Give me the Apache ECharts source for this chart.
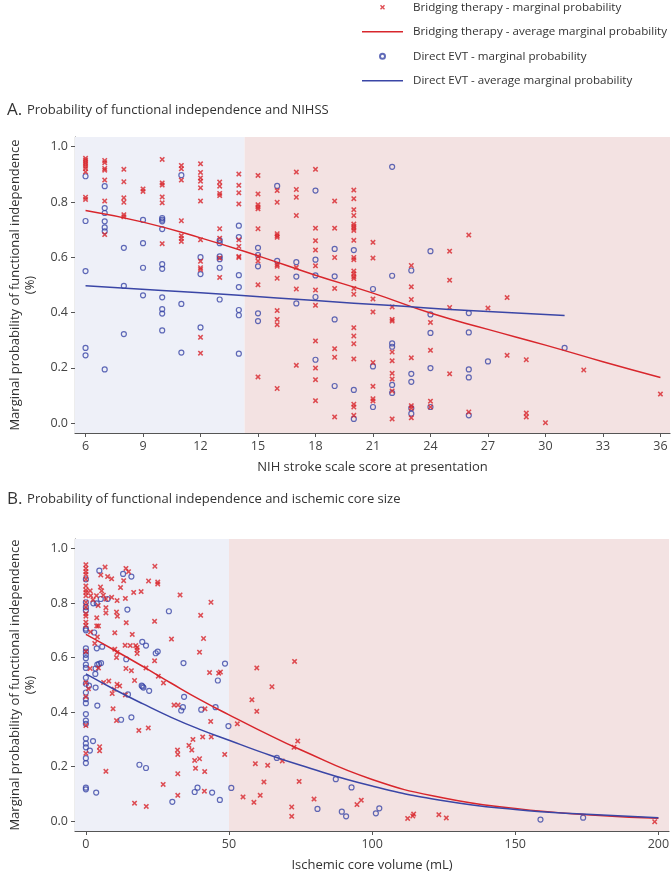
<!DOCTYPE html>
<html>
<head>
<meta charset="utf-8">
<script src="https://cdn.jsdelivr.net/npm/echarts@6/dist/echarts.min.js"></script>
<style>
  html, body { margin: 0; padding: 0; background: #fff; }
  #chart { width: 672px; height: 873px; }
</style>
</head>
<body>
<div id="chart"></div>
<script>
// tick labels
const probTicks = [0, 0.2, 0.4, 0.6, 0.8, 1.0]
const nihssTicks = [6, 9, 12, 15, 18, 21, 24, 27, 30, 33, 36]
const coreTicks = [0, 50, 100, 150, 200]

// shaded ranges (low / high group)
const nihssCut = 14.3
const coreCut = 50

// A. NIHSS - bridging therapy, marginal probability [score, prob]
const nihssBridging = [
  [6,0.958],[6,0.951],[6,0.944],[6,0.937],[6,0.929],[6,0.921],[6,0.909],[6,0.817],[6,0.809],
  [7,0.950],[7,0.942],[7,0.921],[7,0.915],[7,0.879],[7,0.803],[7,0.682],
  [8,0.918],[8,0.873],[8,0.815],[8,0.799],[8,0.754],[8,0.746],
  [9,0.847],[9,0.838],
  [10,0.954],[10,0.869],[10,0.861],[10,0.818],[10,0.797],[10,0.649],
  [11,0.932],[11,0.920],[11,0.879],[11,0.732],[11,0.678],[11,0.668],[11,0.657],
  [12,0.938],[12,0.907],[12,0.887],[12,0.875],[12,0.851],[12,0.803],[12,0.663],[12,0.585],[12,0.562],[12,0.556],[12,0.310],[12,0.253],
  [13,0.872],[13,0.857],[13,0.831],[13,0.823],[13,0.703],[13,0.669],[13,0.597],[13,0.527],
  [14,0.901],[14,0.860],[14,0.833],[14,0.793],[14,0.663],[14,0.639],[14,0.603],[14,0.599],
  [15,0.896],[15,0.829],[15,0.790],[15,0.782],[15,0.775],[15,0.703],[15,0.603],[15,0.586],[15,0.500],[15,0.167],
  [16,0.841],[16,0.799],[16,0.685],[16,0.678],[16,0.672],[16,0.573],[16,0.567],[16,0.524],[16,0.407],[16,0.375],[16,0.356],[16,0.125],
  [17,0.908],[17,0.845],[17,0.817],[17,0.751],[17,0.563],[17,0.485],[17,0.209],
  [18,0.918],[18,0.705],[18,0.660],[18,0.626],[18,0.569],[18,0.481],[18,0.426],[18,0.297],[18,0.199],[18,0.157],[18,0.081],
  [19,0.803],[19,0.705],[19,0.599],[19,0.487],[19,0.269],[19,0.238],[19,0.022],
  [20,0.843],[20,0.812],[20,0.772],[20,0.751],[20,0.720],[20,0.712],[20,0.705],[20,0.697],[20,0.661],[20,0.599],[20,0.591],[20,0.550],
  [20,0.540],[20,0.530],[20,0.523],[20,0.487],[20,0.466],[20,0.345],[20,0.315],[20,0.287],[20,0.232],[20,0.068],[20,0.058],[20,0.028],
  [21,0.654],[21,0.597],[21,0.449],[21,0.402],[21,0.219],[21,0.133],[21,0.088],[21,0.080],
  [22,0.420],[22,0.375],[22,0.369],[22,0.257],[22,0.225],[22,0.180],[22,0.159],[22,0.116],[22,0.015],
  [23,0.570],[23,0.493],[23,0.447],[23,0.236],[23,0.063],[23,0.054],[23,0.019],
  [24,0.364],[24,0.263],[24,0.079],[24,0.058],
  [25,0.622],[25,0.517],[25,0.418],[25,0.178],
  [26,0.680],[26,0.040],
  [27,0.416],
  [28,0.454],[28,0.245],
  [29,0.229],[29,0.036],[29,0.022],
  [30,0.001],
  [32,0.192],
  [36,0.105]
]

// A. NIHSS - direct EVT, marginal probability
const nihssDirect = [
  [6,0.893],[6,0.731],[6,0.550],[6,0.272],[6,0.245],
  [7,0.857],[7,0.778],[7,0.760],[7,0.730],[7,0.708],[7,0.694],[7,0.194],
  [8,0.634],[8,0.496],[8,0.322],
  [9,0.735],[9,0.651],[9,0.562],[9,0.462],
  [10,0.742],[10,0.736],[10,0.730],[10,0.702],[10,0.575],[10,0.558],[10,0.455],[10,0.412],[10,0.396],[10,0.335],
  [11,0.897],[11,0.431],[11,0.255],
  [12,0.600],[12,0.539],[12,0.346],
  [13,0.661],[13,0.651],[13,0.603],[13,0.593],[13,0.562],[13,0.447],
  [14,0.714],[14,0.673],[14,0.535],[14,0.492],[14,0.409],[14,0.390],[14,0.251],
  [15,0.634],[15,0.608],[15,0.567],[15,0.397],[15,0.369],
  [16,0.858],[16,0.587],
  [17,0.582],[17,0.530],[17,0.433],
  [18,0.841],[18,0.591],[18,0.534],[18,0.456],[18,0.229],
  [19,0.630],[19,0.531],[19,0.375],[19,0.134],
  [20,0.626],[20,0.120],[20,0.015],
  [21,0.485],[21,0.205],[21,0.058],
  [22,0.927],[22,0.533],[22,0.288],[22,0.276],[22,0.138],[22,0.109],
  [23,0.552],[23,0.178],[23,0.149],[23,0.054],[23,0.034],
  [24,0.622],[24,0.393],[24,0.326],[24,0.199],[24,0.058],
  [26,0.398],[26,0.328],[26,0.194],[26,0.165],[26,0.028],
  [27,0.223],
  [31,0.272]
]

// A. average marginal probability curves
const nihssBridgingAvg = [[6,0.769],[9,0.727],[12,0.670],[15,0.605],[18,0.535],[21,0.470],[24,0.398],[27,0.339],[30,0.282],[33,0.222],[36,0.165]]
const nihssDirectAvg = [[6,0.497],[10,0.480],[14,0.462],[18,0.443],[22,0.425],[26,0.407],[31,0.389]]

// B. core volume - bridging therapy, marginal probability [mL, prob]
const coreBridging = [
  [0,0.941],[0,0.927],[0,0.915],[0,0.905],[0,0.887],[0,0.863],[0,0.848],[0,0.839],[0,0.827],[0,0.803],
  [0,0.785],[0,0.761],[0,0.752],[0,0.730],[0,0.718],[0,0.622],[0,0.508],[0,0.456],[0,0.351],[0,0.249],
  [6.7,0.932],[5.2,0.903],[7.6,0.897],[9.0,0.889],[14.0,0.927],[14.9,0.915],[12.1,0.857],[13.2,0.882],[16.7,0.839],
  [19.3,0.842],[21.9,0.881],[25.1,0.877],[25.1,0.870],[24.1,0.935],[32.9,0.830],[43.7,0.803],[40.1,0.755],[41.1,0.670],
  [39.7,0.620],[43.2,0.545],[46.4,0.543],[47.0,0.547],[48.5,0.245],[43.6,0.366],[41.6,0.412],[40.8,0.309],[43.8,0.309],
  [41.5,0.182],[41.4,0.110],[39.7,0.229],[38.0,0.223],[38.3,0.194],[36.0,0.278],[37.0,0.261],[37.4,0.300],[32.0,0.261],
  [32.1,0.245],[30.8,0.426],[32.2,0.426],[32.1,0.174],[32.1,0.095],[27.0,0.135],[21.1,0.054],[17.0,0.066],[7.0,0.183],
  [4.8,0.273],[4.8,0.258],[9.5,0.412],[10.7,0.369],[9.2,0.468],[9.9,0.484],[10.9,0.502],[11.8,0.496],[13.8,0.463],
  [8.0,0.514],[6.2,0.509],[0.9,0.486],[1.5,0.560],[18.5,0.333],[21.8,0.342],[17.0,0.516],[14.0,0.560],[15.9,0.552],
  [21.0,0.562],[27.1,0.507],[25.3,0.532],[24.0,0.588],[24.0,0.733],[29.9,0.668],[17.4,0.644],[17.9,0.637],[17.9,0.628],
  [17.9,0.615],[16.2,0.685],[15.5,0.644],[13.7,0.645],[14.1,0.728],[10.1,0.691],[10.1,0.631],[10.9,0.619],[10.7,0.600],
  [10.9,0.809],[11.0,0.752],[10.7,0.767],[13.8,0.817],[9.0,0.821],[7.0,0.783],[7.0,0.764],[7.0,0.815],[3.8,0.746],
  [3.8,0.716],[4.4,0.716],[4.0,0.676],[1.5,0.845],[1.7,0.827],[2.5,0.812],[3.7,0.827],[5.1,0.859],[5.5,0.845],
  [6.1,0.829],[4.3,0.791],[3.1,0.652],[4.4,0.562],[1.6,0.694],
  [52.9,0.357],[54.9,0.089],[58.0,0.445],[59.7,0.562],[59.7,0.403],[59.2,0.211],[58.7,0.069],[60.9,0.095],[62.2,0.144],
  [63.5,0.205],[65.0,0.493],[68.6,0.221],[71.9,0.052],[71.9,0.018],[72.7,0.271],[72.9,0.586],[74.0,0.294],[74.5,0.146],
  [79.7,0.081],[94.7,0.061],[96.2,0.077],[112.4,0.010],[114.2,0.019],[114.5,0.026],[123.3,0.024],[125.9,0.012],[198.7,-0.002]
]

// B. core volume - direct EVT, marginal probability
const coreDirect = [
  [0,0.887],[0,0.803],[0,0.785],[0,0.773],[0,0.706],[0,0.700],[0,0.634],[0,0.622],[0,0.610],[0,0.598],[0,0.574],
  [0,0.562],[0,0.526],[0,0.504],[0,0.472],[0,0.448],[0,0.433],[0,0.393],[0,0.369],[0,0.357],[0,0.303],[0,0.285],
  [0,0.271],[0,0.231],[0,0.213],[0,0.123],[0,0.117],
  [4.7,0.919],[13.0,0.907],[15.9,0.897],[7.6,0.815],[5.2,0.815],[2.6,0.799],[3.8,0.799],[2.9,0.692],[14.5,0.776],
  [29.0,0.770],[3.8,0.634],[5.7,0.640],[19.7,0.658],[21.0,0.644],[24.4,0.616],[25.1,0.622],[14.1,0.594],[4.0,0.574],
  [4.6,0.577],[5.3,0.580],[3.4,0.560],[3.3,0.540],[3.4,0.490],[1.1,0.497],[19.5,0.497],[19.8,0.494],[20.1,0.490],
  [22.1,0.478],[14.7,0.465],[4.0,0.424],[12.3,0.372],[15.9,0.381],[34.3,0.456],[33.9,0.418],[33.3,0.406],[34.1,0.580],
  [48.6,0.578],[46.1,0.516],[45.3,0.418],[40.3,0.409],[18.7,0.207],[21.0,0.195],[3.6,0.105],[2.5,0.294],[1.4,0.259],
  [30.2,0.071],[38.0,0.107],[39.0,0.123],[44.1,0.105],[46.8,0.078],
  [49.8,0.349],[50.8,0.122],[66.7,0.232],[80.9,0.045],[87.3,0.154],[89.4,0.035],[90.9,0.018],[92.8,0.124],
  [101.3,0.029],[102.5,0.047],[158.8,0.006],[173.7,0.013]
]

// B. average marginal probability curves
const coreBridgingAvg = [[0,0.685],[10,0.627],[20,0.567],[30,0.505],[40,0.445],[50,0.390],[60,0.337],[75,0.262],[100,0.153],[125,0.085],[150,0.047],[175,0.024],[200,0.011]]
const coreDirectAvg = [[0,0.540],[10,0.483],[20,0.430],[30,0.380],[40,0.336],[50,0.297],[60,0.258],[75,0.205],[100,0.129],[125,0.075],[150,0.043],[175,0.025],[200,0.013]]

const RED = '#d8262c'
const BLUE = '#3a46a6'
const FONT = 'Open Sans'
const CROSS = 'path://M0,2L2,0L5,3L8,0L10,2L7,5L10,8L8,10L5,7L2,10L0,8L3,5Z'
const LINE_ICON = 'path://M0,0H60V2H0Z'

const names = [
  'Bridging therapy - marginal probability',
  'Bridging therapy - average marginal probability',
  'Direct EVT - marginal probability',
  'Direct EVT - average marginal probability'
]

let myChart = echarts.init(document.getElementById('chart'), null, { renderer: 'canvas' })

function eixoX(idx, min, max, ticks, nome) {
  return {
    gridIndex: idx, type: 'value', min: min, max: max,
    name: nome, nameLocation: 'middle', nameGap: 28,
    nameTextStyle: { fontFamily: FONT, fontSize: 13, color: '#333' },
    axisLine: { show: true, onZero: false, lineStyle: { color: '#555', width: 1.2 } },
    axisTick: { show: true, length: 4, customValues: ticks, lineStyle: { color: '#555' } },
    axisLabel: { customValues: ticks, fontFamily: FONT, fontSize: 12.5, color: '#444', margin: 7 },
    splitLine: { show: false }
  }
}

function eixoY(idx) {
  return {
    gridIndex: idx, type: 'value', min: -0.036, max: 1.035,
    name: 'Marginal probability of functional independence\n(%)',
    nameLocation: 'middle', nameGap: 37,
    nameTextStyle: { fontFamily: FONT, fontSize: 13, color: '#333', lineHeight: 15 },
    axisLine: { show: true, onZero: false, lineStyle: { color: '#555', width: 1.2 } },
    axisTick: { show: true, length: 4, customValues: probTicks, lineStyle: { color: '#555' } },
    axisLabel: { customValues: probTicks, formatter: v => v.toFixed(1), fontFamily: FONT, fontSize: 12.5, color: '#444', margin: 7 },
    splitLine: { show: false }
  }
}

function pontos(nome, idx, dados, direto) {
  return {
    name: nome, type: 'scatter', xAxisIndex: idx, yAxisIndex: idx,
    data: dados,
    symbol: direto ? 'circle' : CROSS,
    symbolSize: direto ? 5 : 5.5,
    itemStyle: direto
      ? { color: 'rgba(0,0,0,0)', borderColor: BLUE, borderWidth: 1.2 }
      : { color: RED },
    z: direto ? 3 : 4
  }
}

function curva(nome, idx, dados, cor) {
  return {
    name: nome, type: 'line', xAxisIndex: idx, yAxisIndex: idx,
    data: dados, smooth: true, symbol: 'none',
    lineStyle: { color: cor, width: 1.5 }, itemStyle: { color: cor }, z: 5
  }
}

function sombra(idx, min, cut, max) {
  return {
    type: 'line', xAxisIndex: idx, yAxisIndex: idx, data: [], silent: true,
    markArea: {
      silent: true,
      data: [
        [{ xAxis: min, itemStyle: { color: '#eef0f8' } }, { xAxis: cut }],
        [{ xAxis: cut, itemStyle: { color: '#f3e2e2' } }, { xAxis: max }]
      ]
    },
    z: 0
  }
}

const richTitulo = {
  a: { fontSize: 17, color: '#333', fontFamily: FONT, fontWeight: 'normal' },
  b: { fontSize: 13, color: '#333', fontFamily: FONT, fontWeight: 'normal' }
}

myChart.setOption({
  animation: false,
  textStyle: { fontFamily: FONT },
  title: [
    {
      left: 2, top: 96,
      text: '{a|A.} {b|Probability of functional independence and NIHSS}',
      textStyle: { fontWeight: 'normal', rich: richTitulo }
    },
    {
      left: 2, top: 485,
      text: '{a|B.} {b|Probability of functional independence and ischemic core size}',
      textStyle: { fontWeight: 'normal', rich: richTitulo }
    }
  ],
  legend: {
    orient: 'vertical', left: 362, top: 0, padding: 0,
    itemWidth: 41, itemHeight: 5, itemGap: 10,
    textStyle: { fontFamily: FONT, fontSize: 11.6, color: '#333', padding: [0, 0, 0, 5], lineHeight: 14.5 },
    data: [
      { name: names[0] },
      { name: names[1], icon: LINE_ICON },
      { name: names[2] },
      { name: names[3], icon: LINE_ICON }
    ]
  },
  grid: [
    { left: 67, top: 137, width: 603, height: 296 },
    { left: 67, top: 539, width: 603, height: 295 }
  ],
  xAxis: [
    eixoX(0, 5.45, 36.5, nihssTicks, 'NIH stroke scale score at presentation'),
    eixoX(1, -3.8, 203.7, coreTicks, 'Ischemic core volume (mL)')
  ],
  yAxis: [eixoY(0), eixoY(1)],
  series: [
    sombra(0, 5.45, nihssCut, 36.5),
    sombra(1, -3.8, coreCut, 203.7),
    pontos(names[2], 0, nihssDirect, true),
    pontos(names[0], 0, nihssBridging, false),
    curva(names[1], 0, nihssBridgingAvg, RED),
    curva(names[3], 0, nihssDirectAvg, BLUE),
    pontos(names[2], 1, coreDirect, true),
    pontos(names[0], 1, coreBridging, false),
    curva(names[1], 1, coreBridgingAvg, RED),
    curva(names[3], 1, coreDirectAvg, BLUE)
  ]
})
</script>
</body>
</html>
